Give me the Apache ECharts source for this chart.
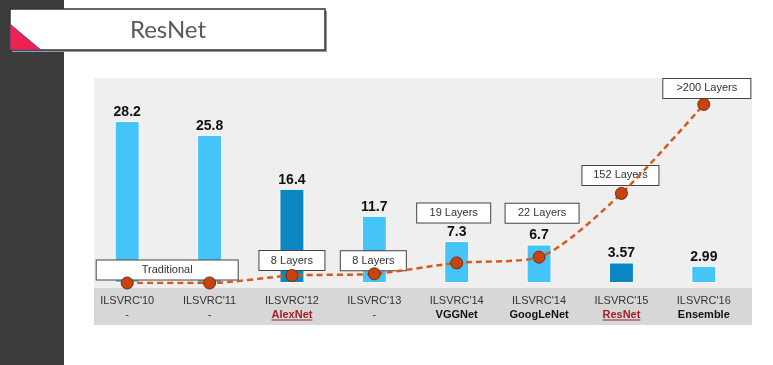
<!DOCTYPE html>
<html><head><meta charset="utf-8">
<script src="https://cdn.jsdelivr.net/npm/echarts@6/dist/echarts.min.js"></script>
<style>html,body{margin:0;padding:0;background:#fff}#c{width:773px;height:365px}#err{position:absolute;left:100px;top:100px;color:red;font:12px sans-serif}</style>
</head><body><div id="c"></div><div id="err"></div>
<script>
const categories = ["ILSVRC'10","ILSVRC'11","ILSVRC'12","ILSVRC'13","ILSVRC'14","ILSVRC'14","ILSVRC'15","ILSVRC'16"];
const networks = ['-','-','AlexNet','-','VGGNet','GoogLeNet','ResNet','Ensemble'];
const errorRates = [28.2,25.8,16.4,11.7,7.3,6.7,3.57,2.99];
const highlighted = [false,false,true,false,false,false,true,false];
const layerLabels = ['Traditional','','8 Layers','8 Layers','19 Layers','22 Layers','152 Layers','>200 Layers'];
const depthMarks = [0,0,1.3,1.6,3.5,4.5,15.6,31.1];
const labelBoxes = [[141,40,-13],null,[65,0,-15],[65,-1,-13],[73,-3,-50],[73,3,-44],[76,-1,-18],[87,3,-16]];

try {
const chart = echarts.init(document.getElementById('c'));
const FONT = 'Liberation Sans, Arial, sans-serif';

const boxData = depthMarks.map((v,i)=>{
  const b = labelBoxes[i];
  const d = {value:v};
  if (b) {
    d.label = {show:true, position:'inside', formatter:layerLabels[i], width:b[0], offset:[b[1],b[2]],
      align:'center', verticalAlign:'middle', backgroundColor:'#fff', borderColor:'#444', borderWidth:1, padding:[3,0],
      lineHeight:13, fontSize:11, fontFamily:FONT, color:'#333'};
  } else {
    d.label = {show:false};
  }
  return d;
});

chart.setOption({
  animation:false,
  graphic:[
    {id:'strip', type:'rect', z:-10, shape:{x:0,y:0,width:64,height:365}, style:{fill:'#3c3c3c'}},
    {id:'panel', type:'rect', z:-10, shape:{x:94,y:78,width:658,height:247}, style:{fill:'#efefef'}},
    {id:'band', type:'rect', z:-9, shape:{x:94,y:288,width:658,height:37}, style:{fill:'#d7d7d7'}},
    {id:'tshadow', type:'rect', z:-8, shape:{x:12,y:11,width:315,height:41}, style:{fill:'#9a9a9a'}},
    {id:'tbox', type:'rect', z:-7, shape:{x:10,y:9,width:315,height:41}, style:{fill:'#fff', stroke:'#333', lineWidth:1.5}},
    {id:'tri', type:'polygon', z:-6, shape:{points:[[10,24],[10,50],[41,50]]}, style:{fill:'#ee2151', stroke:'#3c4d9c', lineWidth:0.8}},
    {id:'ttext', type:'text', z:-5, style:{x:168, y:30, text:'ResNet', fill:'#595959', font:'24px Lato, "Open Sans", sans-serif', align:'center', verticalAlign:'middle'}}
  ],
  grid:{left:86, right:28, top:82, bottom:82},
  xAxis:{type:'category', data:categories,
    axisLine:{show:false}, axisTick:{show:false},
    axisLabel:{margin:11, interval:0,
      formatter:(v,i)=>'{a|'+v+'}\n{'+(highlighted[i]?'r':(networks[i]==='-'?'d':'b'))+'|'+networks[i]+'}',
      rich:{
        a:{fontSize:11, fontFamily:FONT, color:'#333', lineHeight:14},
        d:{fontSize:11, fontFamily:FONT, color:'#333', lineHeight:14},
        b:{fontSize:11, fontFamily:FONT, color:'#111', fontWeight:'bold', lineHeight:14},
        r:{fontSize:11, fontFamily:FONT, color:'#a51d25', fontWeight:'bold', lineHeight:14}
      }}},
  yAxis:[
    {type:'value', min:0, max:35, show:false, splitLine:{show:false}},
    {type:'value', min:0, max:35, show:false, splitLine:{show:false}}
  ],
  series:[
    {type:'bar', barWidth:25, z:2,
      data:errorRates.map((v,i)=>({value:v, itemStyle:{color: highlighted[i]?'#0b87c4':'#45c5f7'}})),
      itemStyle:{borderColor:'#ffffff', borderWidth:1},
      label:{show:true, position:'top', distance:2, fontSize:14, fontWeight:'bold', fontFamily:FONT, color:'#111'}},
    {type:'scatter', yAxisIndex:1, z:3, data:boxData, symbol:'circle', symbolSize:12,
      itemStyle:{color:'rgba(0,0,0,0)', opacity:1}, silent:true},
    {type:'line', yAxisIndex:1, z:5, data:depthMarks, smooth:0.25,
      lineStyle:{color:'#d9591d', width:2.5, type:[6,4]},
      symbol:'circle', symbolSize:12,
      itemStyle:{color:'#c8440f', borderColor:'#7a2a0a', borderWidth:1}}
  ]
});

const ctx = document.createElement('canvas').getContext('2d');
ctx.font = 'bold 11px ' + FONT;
const extra = [];
highlighted.forEach((h,i)=>{
  if (!h) return;
  const x = chart.convertToPixel({xAxisIndex:0}, i);
  const w = ctx.measureText(networks[i]).width;
  extra.push({id:'ul'+i, type:'line', z:10, shape:{x1:x-w/2, y1:320, x2:x+w/2, y2:320}, style:{stroke:'#a51d25', lineWidth:1}});
});
chart.setOption({graphic: extra});
} catch(e) { document.getElementById('err').textContent = e && (e.stack || e.message || e); }
</script></body></html>
